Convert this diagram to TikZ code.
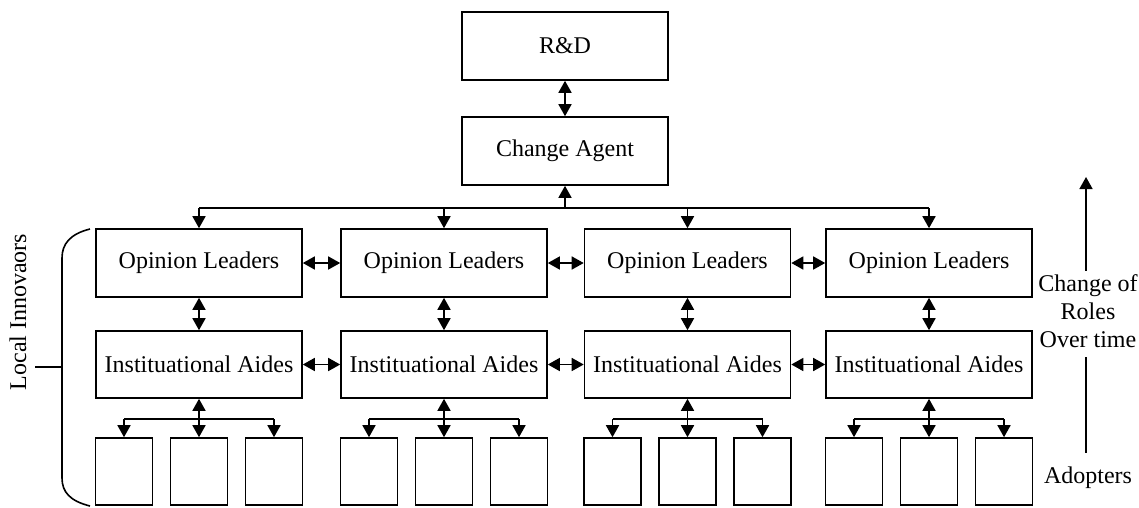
\documentclass[tikz,border=0pt]{standalone}
\usepackage{fontspec}
\setmainfont{Liberation Serif}
\usetikzlibrary{arrows.meta}
\begin{document}
\begin{tikzpicture}[x=1pt,y=-1pt,
  lbl/.style={font=\fontsize{24}{28}\selectfont},
  box/.style={draw, line width=1.6pt, inner sep=0pt, lbl, minimum width=206pt, minimum height=68pt},
  small/.style={draw, line width=1.6pt, inner sep=0pt, minimum width=57pt, minimum height=67pt},
  con/.style={line width=1.6pt},
  onetip/.style={con, -{Triangle[length=12pt,width=13pt]}},
  twotip/.style={con, {Triangle[length=12pt,width=13pt]}-{Triangle[length=12pt,width=13pt]}}]
\useasboundingbox (0,0) rectangle (1139,507);
\node[box] (rd) at (565,46) {R\&D};
\node[box] (ca) at (565,151) {Change Agent};
\draw[twotip] (rd) -- (ca);
\coordinate (busc) at (565,208);
\draw[onetip] (busc) -- (ca);
\foreach \i/\c in {1/199,2/444,3/687.5,4/929}{
  \node[box] (ol\i) at (\c,263) {Opinion Leaders};
  \node[box, minimum height=67pt] (ia\i) at (\c,364.5) {Instituational Aides};
  \node[small] (sa\i) at (\c-75,471.5) {};
  \node[small] (sb\i) at (\c,471.5) {};
  \node[small] (sc\i) at (\c+75,471.5) {};
  \coordinate (bus\i) at (\c,208);
  \coordinate (bra\i) at (\c-75,419);
  \coordinate (brc\i) at (\c+75,419);
  \draw[onetip] (bus\i) -- (ol\i);
  \draw[twotip] (ol\i) -- (ia\i);
  \draw[twotip] (ia\i) -- (sb\i);
  \draw[con] (bra\i) -- (brc\i);
  \draw[onetip] (bra\i) -- (sa\i);
  \draw[onetip] (brc\i) -- (sc\i);
}
\draw[con] (bus1) -- (bus4);
\foreach \i/\j in {1/2,2/3,3/4}{
  \draw[twotip] (ol\i) -- (ol\j);
  \draw[twotip] (ia\i) -- (ia\j);
}
% bracket
\coordinate (bt) at (90,229);
\coordinate (bb) at (90,506);
\coordinate (tk) at (35,367);
\coordinate (tm) at (62,367);
\draw[con] (bt) .. controls (70,234) and (62,244) .. (62,258) -- (62,478) .. controls (62,492) and (70,501) .. (bb);
\draw[con] (tk) -- (tm);
\node[lbl, rotate=90] (li) at (18,312) {Local Innovaors};
% right side
\node[lbl, align=center] (cr) at (1088,311) {Change of\\Roles\\Over time};
\node[lbl] (ad) at (1088,478) {Adopters};
\coordinate (ua) at (1086,177);
\coordinate (lb) at (1086,357);
\coordinate (le) at (1086,453);
\draw[onetip] (cr.north -| ua) -- (ua);
\draw[con] (lb) -- (le);
\end{tikzpicture}
\end{document}
